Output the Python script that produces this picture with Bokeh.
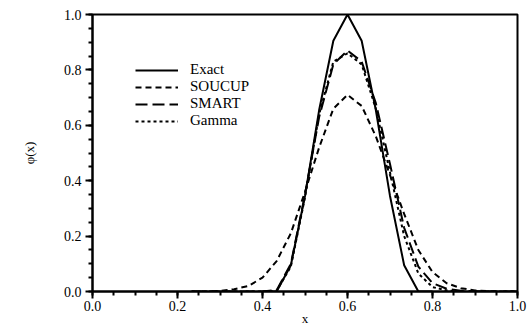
from bokeh.plotting import figure
from bokeh.models import FixedTicker, PrintfTickFormatter, Legend, LegendItem, Range1d
from bokeh.embed import file_html
from bokeh.resources import INLINE

# Grid positions (h = 1/30)
x_exact = [0.4, 0.4333, 0.4667, 0.5, 0.5333, 0.5667, 0.6, 0.6333, 0.6667, 0.7, 0.7333, 0.7667, 0.8]
y_exact = [0.0, 0.0, 0.095, 0.345, 0.655, 0.905, 1.0, 0.905, 0.655, 0.345, 0.095, 0.0, 0.0]

x_num = [0.2333, 0.2667, 0.3, 0.3333, 0.3667, 0.4, 0.4333, 0.4667, 0.5, 0.5333, 0.5667, 0.6,
         0.6333, 0.6667, 0.7, 0.7333, 0.7667, 0.8, 0.8333, 0.8667, 0.9, 0.9333, 0.9667, 1.0]
y_soucup = [0.0, 0.0, 0.002, 0.008, 0.02, 0.05, 0.11, 0.21, 0.36, 0.52, 0.66, 0.71,
            0.67, 0.56, 0.42, 0.28, 0.15, 0.07, 0.03, 0.012, 0.004, 0.001, 0.0, 0.0]
y_smart = [0.0, 0.0, 0.0, 0.0, 0.0, 0.0, 0.005, 0.1, 0.35, 0.63, 0.82, 0.87,
           0.83, 0.68, 0.46, 0.23, 0.09, 0.03, 0.01, 0.003, 0.001, 0.0, 0.0, 0.0]
y_gamma = [0.0, 0.0, 0.0, 0.0, 0.0, 0.0, 0.003, 0.09, 0.34, 0.64, 0.83, 0.86,
           0.82, 0.66, 0.43, 0.2, 0.065, 0.016, 0.004, 0.0, 0.0, 0.0, 0.0, 0.0]

major_ticks = [0.0, 0.2, 0.4, 0.6, 0.8, 1.0]
minor_ticks = [i * 0.05 for i in range(21)]

FONT = "Liberation Serif"

p = figure(width=528, height=330, output_backend="svg", toolbar_location=None,
           x_range=Range1d(0, 1), y_range=Range1d(0, 1),
           min_border_left=92, min_border_right=11, min_border_top=14, min_border_bottom=39)
p.grid.visible = False
p.background_fill_color = "white"
p.border_fill_color = "white"
p.outline_line_color = "black"
p.outline_line_width = 2

for ax in (p.xaxis[0], p.yaxis[0]):
    ax.ticker = FixedTicker(ticks=major_ticks, minor_ticks=minor_ticks)
    ax.formatter = PrintfTickFormatter(format="%.1f")
    ax.axis_line_width = 2
    ax.axis_line_color = "black"
    ax.major_tick_line_width = 2
    ax.minor_tick_line_width = 2
    ax.major_tick_line_color = "black"
    ax.minor_tick_line_color = "black"
    ax.major_tick_in = 0
    ax.minor_tick_in = 0
    ax.major_tick_out = 7
    ax.minor_tick_out = 4
    ax.major_label_text_font = FONT
    ax.major_label_text_font_size = "14px"
    ax.major_label_text_color = "black"
    ax.axis_label_text_font = FONT
    ax.axis_label_text_font_size = "13px"
    ax.axis_label_text_font_style = "normal"
    ax.axis_label_text_color = "black"

p.xaxis.axis_label = "x"
p.xaxis.major_label_standoff = 2
p.xaxis.axis_label_standoff = -3
p.yaxis.axis_label = "φ(x)"
p.yaxis.major_label_standoff = 4
p.yaxis.axis_label_standoff = 24

r_exact = p.line(x_exact, y_exact, line_color="black", line_width=2)
r_soucup = p.line(x_num, y_soucup, line_color="black", line_width=2, line_dash="6 4")
r_smart = p.line(x_num, y_smart, line_color="black", line_width=2, line_dash="12 5")
r_gamma = p.line(x_num, y_gamma, line_color="black", line_width=2, line_dash="3 3")

legend = Legend(items=[
    LegendItem(label="Exact", renderers=[r_exact]),
    LegendItem(label="SOUCUP", renderers=[r_soucup]),
    LegendItem(label="SMART", renderers=[r_smart]),
    LegendItem(label="Gamma", renderers=[r_gamma]),
], location=(43, 162))
legend.border_line_color = None
legend.background_fill_alpha = 0
legend.padding = 0
legend.margin = 0
legend.spacing = 0
legend.glyph_width = 43
legend.glyph_height = 16
legend.label_height = 16
legend.label_standoff = 12
legend.label_text_font = FONT
legend.label_text_font_size = "15px"
legend.label_text_color = "black"
legend.label_text_baseline = "middle"
p.add_layout(legend, "center")

open("out.html", "w").write(file_html(p, INLINE))
